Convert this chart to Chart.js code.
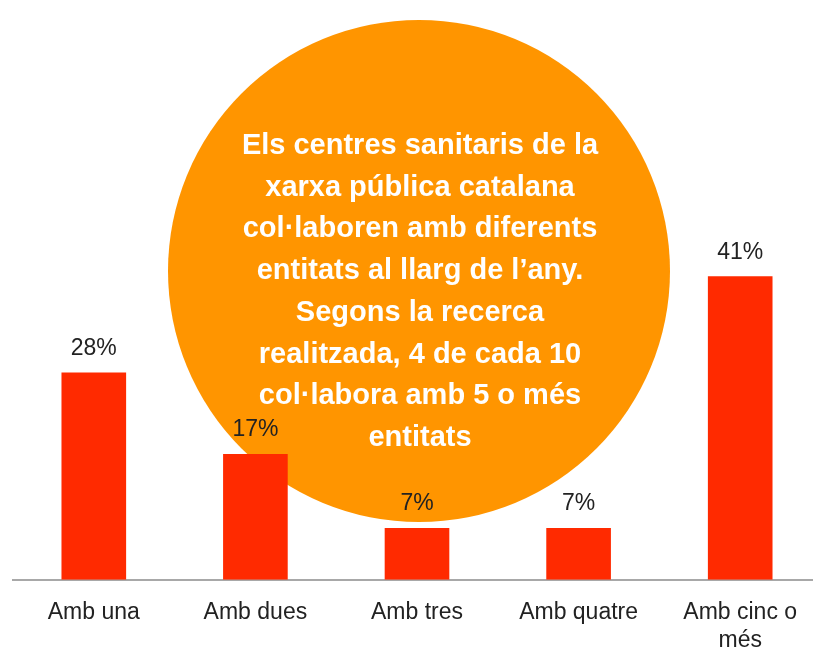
<!DOCTYPE html>
<html>
<head>
<meta charset="utf-8">
<script src="https://cdn.jsdelivr.net/npm/chart.js@4"></script>
<style>
  html, body { margin: 0; padding: 0; background: #fff; overflow: hidden; }
  #wrap { width: 813px; height: 650px; overflow: hidden; }
</style>
</head>
<body>
<div id="wrap"><canvas id="chart" width="821" height="680"></canvas></div>
<script>
const categories = ["Amb una", "Amb dues", "Amb tres", "Amb quatre", ["Amb cinc o", "més"]];
const values = [28, 17, 7, 7, 41];
const valueLabels = ["28%", "17%", "7%", "7%", "41%"];
const bubbleLines = [
  "Els centres sanitaris de la",
  "xarxa pública catalana",
  "col·laboren amb diferents",
  "entitats al llarg de l’any.",
  "Segons la recerca",
  "realitzada, 4 de cada 10",
  "col·labora amb 5 o més",
  "entitats",
];

const FONT = "'Liberation Sans', Arial, Helvetica, sans-serif";

// orange circle behind the bars, with the text inside
const bubblePlugin = {
  id: "bubble",
  beforeDatasetsDraw(chart) {
    const ctx = chart.ctx;
    const cx = 419, cy = 271, r = 251;
    ctx.save();
    ctx.fillStyle = "#FF9500";
    ctx.beginPath();
    ctx.arc(cx, cy, r, 0, Math.PI * 2);
    ctx.fill();
    ctx.fillStyle = "#ffffff";
    ctx.font = "bold 29px " + FONT;
    ctx.textAlign = "center";
    ctx.textBaseline = "middle";
    bubbleLines.forEach((line, i) => {
      ctx.fillText(line, cx + 1, 146 + i * 41.7);
    });
    ctx.restore();
  },
};

// percentage labels above each bar
const valueLabelPlugin = {
  id: "valueLabels",
  afterDatasetsDraw(chart) {
    const ctx = chart.ctx;
    const meta = chart.getDatasetMeta(0);
    ctx.save();
    ctx.fillStyle = "#222222";
    ctx.font = "23px " + FONT;
    ctx.textAlign = "center";
    ctx.textBaseline = "middle";
    meta.data.forEach((bar, i) => {
      ctx.fillText(valueLabels[i], bar.x, bar.y - 24);
    });
    ctx.restore();
  },
};

new Chart(document.getElementById("chart"), {
  type: "bar",
  data: {
    labels: categories,
    datasets: [
      {
        data: values,
        backgroundColor: "#FF2A00",
        borderWidth: 0,
        barPercentage: 0.4,
        categoryPercentage: 1,
      },
    ],
  },
  options: {
    responsive: false,
    animation: false,
    layout: {
      padding: { top: 20, left: 13, right: 0, bottom: 7 },
    },
    scales: {
      x: {
        grid: { display: false, drawTicks: false },
        border: { display: true, color: "#A8A8A8", width: 2 },
        ticks: {
          color: "#222222",
          font: { family: FONT, size: 23, lineHeight: 1.2 },
          padding: 19,
          maxRotation: 0,
        },
      },
      y: {
        display: false,
        min: 0,
        max: 75.6,
      },
    },
    plugins: {
      legend: { display: false },
      tooltip: { enabled: false },
    },
  },
  plugins: [bubblePlugin, valueLabelPlugin],
});
</script>
</body>
</html>
